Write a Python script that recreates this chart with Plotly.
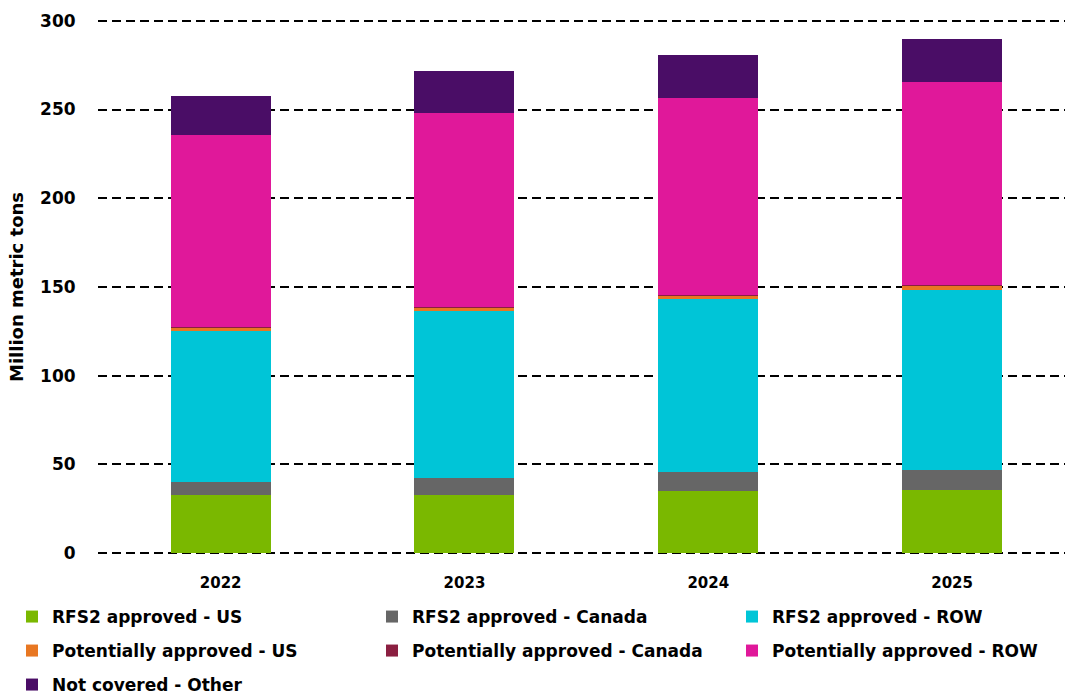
import plotly.graph_objects as go

years = ["2022", "2023", "2024", "2025"]
rfs2_us = [32.6, 32.6, 34.8, 35.9]
rfs2_canada = [7.7, 9.9, 11.1, 11.1]
rfs2_row = [85.1, 93.7, 97.1, 101.5]
pot_us = [1.6, 2.1, 2.2, 2.4]
pot_canada = [0.6, 0.3, 0.3, 0.3]
pot_row = [107.8, 109.2, 111.1, 114.4]
not_covered = [22.3, 23.7, 24.4, 24.3]

series = [
    ("RFS2 approved - US", rfs2_us, "#7AB800"),
    ("RFS2 approved - Canada", rfs2_canada, "#666666"),
    ("RFS2 approved - ROW", rfs2_row, "#00C5D7"),
    ("Potentially approved - US", pot_us, "#E87722"),
    ("Potentially approved - Canada", pot_canada, "#8B1F41"),
    ("Potentially approved - ROW", pot_row, "#E0189A"),
    ("Not covered - Other", not_covered, "#4A0D66"),
]

W, H = 1071, 694
font_family = "'DejaVu Sans', sans-serif"
legend_font = dict(size=17, family=font_family, color="black", weight="bold")

# legend grid: 3 columns, 3 rows (pixel anchors in the page)
col_px = [12, 372, 732]
row_px = [617, 651, 685]

fig = go.Figure()
legends = {}
for i, (name, vals, color) in enumerate(series):
    key = "legend" if i == 0 else f"legend{i + 1}"
    fig.add_trace(go.Bar(x=years, y=vals, name=name, legend=key,
                         marker=dict(color=color, line=dict(width=0))))
    legends[key] = dict(
        orientation="h",
        xref="container", yref="container",
        x=col_px[i % 3] / W, y=1 - row_px[i // 3] / H,
        xanchor="left", yanchor="middle",
        font=legend_font, itemwidth=30,
        bgcolor="rgba(0,0,0,0)",
    )

fig.update_layout(
    barmode="stack",
    bargap=0.59,
    width=W, height=H,
    margin=dict(l=98, r=6, t=19, b=139, autoexpand=False),
    plot_bgcolor="white", paper_bgcolor="white",
    font=dict(family=font_family, color="black"),
    showlegend=True,
    xaxis=dict(
        type="category", range=[-0.503, 3.463], automargin=False,
        showgrid=False, showline=False, zeroline=False,
        ticks="outside", ticklen=14, tickcolor="rgba(0,0,0,0)",
        tickfont=dict(size=15, weight="bold"),
    ),
    yaxis=dict(
        range=[-1, 301], tickvals=[0, 50, 100, 150, 200, 250, 300], automargin=False,
        showgrid=True, gridcolor="black", gridwidth=2, griddash="9px,5px",
        zeroline=False, showline=False,
        ticks="outside", ticklen=18, tickcolor="rgba(0,0,0,0)",
        tickfont=dict(size=17, weight="bold"),
        title=dict(text="Million metric tons", font=dict(size=18, weight="bold"), standoff=11),
    ),
    **legends,
)

fig.write_html("out.html", config={"displayModeBar": False},
               post_script="document.body.style.margin='0';document.body.style.padding='0';")
